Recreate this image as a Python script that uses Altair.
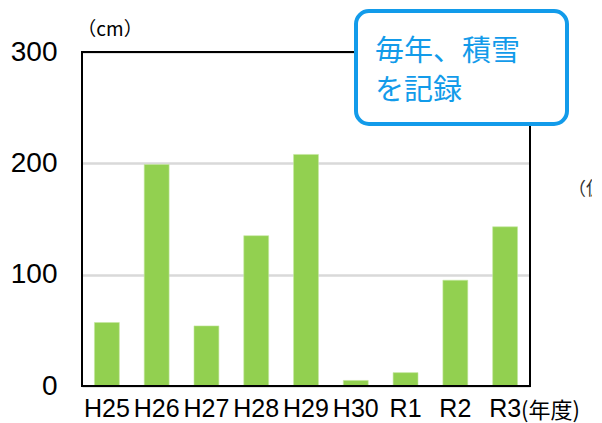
import altair as alt
import pandas as pd

years = ["H25", "H26", "H27", "H28", "H29", "H30", "R1", "R2", "R3"]
snow_cm = [57, 199, 54, 135, 208, 5, 12, 95, 143]
y_ticks = [0, 100, 200, 300]
unit_label = "（cm）"
year_label = "(年度)"
callout_lines = ["毎年、積雪", "を記録"]
side_note = "（仮）"

W, H = 448, 334
BAR = "#92D050"
BLUE = "#129BEA"
LAT = "Liberation Sans"
CJK = "Noto Sans CJK JP"

df = pd.DataFrame({"year": years, "cm": snow_cm})

bars = alt.Chart(df).mark_bar(color=BAR, stroke="#c5e8a0", strokeWidth=0.6).encode(
    x=alt.X("year:N", sort=years,
            scale=alt.Scale(paddingInner=0.5, paddingOuter=0.25),
            axis=alt.Axis(title=None, labelAngle=0, ticks=False, domain=False,
                          labelFont=LAT, labelFontSize=25, labelColor="black",
                          labelPadding=10, labelOverlap=False, labelBound=False)),
    y=alt.Y("cm:Q", scale=alt.Scale(domain=[0, 300], nice=False),
            axis=alt.Axis(title=None, values=y_ticks, ticks=False, domain=False,
                          labelFont=LAT, labelFontSize=28, labelColor="black",
                          labelPadding=25, gridColor="#d9d9d9", gridWidth=2.5)),
)

one = pd.DataFrame({"k": [0]})

frame = alt.Chart(one).mark_rect(fill=None, stroke="black", strokeWidth=2).encode(
    x=alt.value(0), x2=alt.value(W), y=alt.value(0), y2=alt.value(H)
)

box = alt.Chart(one).mark_rect(fill="white", stroke=BLUE, strokeWidth=4,
                               cornerRadius=13).encode(
    x=alt.value(274), x2=alt.value(485), y=alt.value(-41), y2=alt.value(72)
)

line1 = alt.Chart(one).mark_text(text=callout_lines[0], font=CJK, fontSize=29,
                                 color=BLUE, align="left", baseline="middle").encode(
    x=alt.value(293), y=alt.value(0)
)
line2 = alt.Chart(one).mark_text(text=callout_lines[1], font=CJK, fontSize=29,
                                 color=BLUE, align="left", baseline="middle").encode(
    x=alt.value(293), y=alt.value(39)
)

unit = alt.Chart(one).mark_text(text=unit_label, font=CJK, fontSize=19,
                                color="black", align="center", baseline="middle").encode(
    x=alt.value(28), y=alt.value(-22)
)

year_t = alt.Chart(one).mark_text(text=year_label, font=CJK, fontSize=22,
                                  color="black", align="left", baseline="middle").encode(
    x=alt.value(439), y=alt.value(359)
)

note = alt.Chart(one).mark_text(text=side_note, font=CJK, fontSize=18,
                                color="#333333", align="left", baseline="middle").encode(
    x=alt.value(486), y=alt.value(138)
)

chart = alt.layer(bars, frame, box, line1, line2, unit, year_t, note).properties(
    width=W, height=H,
    autosize=alt.AutoSizeParams(type="none"),
    padding={"left": 74, "top": 44, "right": 62, "bottom": 37},
).configure_view(stroke=None).configure(background="white")

chart.save("out.html", embed_options={"renderer": "svg", "actions": False})
